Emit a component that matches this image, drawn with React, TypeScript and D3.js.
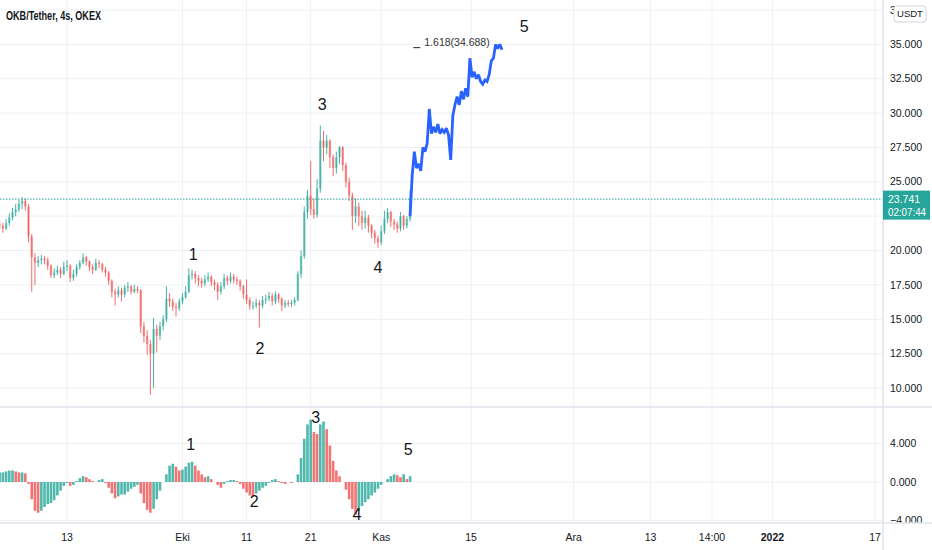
import React, { useEffect, useRef } from 'react';
import * as d3 from 'd3';

// 12h candles
const candleStart = Date.UTC(2021, 8, 2, 12);
const candleStep = 12 * 3600 * 1000;
const firstOpen = 21.9;
const closes = [
  21.8, 21.6, 22.0, 22.4, 22.8, 23.0, 23.4, 23.6, 23.2, 21.0,
  19.5, 19.1, 19.3, 19.4, 19.3, 18.9, 18.2, 18.4, 18.6, 18.3,
  18.8, 18.9, 18.0, 18.3, 18.8, 19.1, 19.5, 19.2, 18.8, 18.6,
  19.1, 19.0, 18.6, 18.4, 17.8, 17.0, 16.8, 17.1, 16.8, 17.3,
  17.4, 17.0, 17.2, 17.1, 14.5, 13.8, 13.2, 12.5, 14.3, 13.8,
  14.5, 15.0, 16.5, 16.3, 15.9, 15.8, 16.3, 16.6, 17.0, 18.2,
  18.3, 18.0, 17.8, 17.6, 17.9, 18.1, 17.7, 17.5, 17.0, 17.4,
  18.0, 17.8, 18.1, 17.9, 17.8, 17.4, 16.8, 16.4, 16.0, 16.0,
  16.2, 16.0, 16.4, 16.5, 16.7, 16.3, 16.8, 16.5, 16.0, 16.2,
  16.1, 16.2, 16.4, 18.3, 19.6, 22.8, 24.0, 23.0, 22.6, 24.5,
  28.0, 27.5, 28.0, 26.8, 26.0, 26.8, 27.5, 26.2, 25.0, 24.0,
  22.5, 23.2, 22.5, 22.0, 22.4, 21.8, 21.3, 20.9, 20.6, 21.4,
  22.3, 22.8, 22.1, 21.9, 21.6, 22.5, 21.8, 22.3, 23.8,
];
const highs = [
  22.2, 22.0, 22.3, 22.7, 23.1, 23.4, 23.7, 23.9, 23.8, 23.4,
  21.2, 19.8, 19.6, 19.7, 19.6, 19.5, 19.0, 18.7, 18.9, 18.8,
  19.2, 19.3, 19.0, 18.6, 19.0, 19.3, 19.8, 19.6, 19.3, 19.0,
  19.4, 19.3, 19.1, 18.8, 18.5, 17.9, 17.2, 17.4, 17.3, 17.5,
  17.7, 17.5, 17.5, 17.4, 17.2, 14.8, 14.2, 13.5, 15.1, 14.6,
  14.8, 15.3, 17.4, 16.9, 16.5, 16.2, 16.5, 16.9, 17.4, 18.7,
  18.6, 18.5, 18.2, 18.0, 18.2, 18.4, 18.2, 17.9, 17.7, 17.7,
  18.3, 18.2, 18.4, 18.3, 18.1, 17.9, 17.5, 17.9, 16.6, 16.3,
  16.5, 16.4, 16.7, 16.8, 17.0, 16.9, 17.0, 16.9, 16.6, 16.4,
  16.4, 16.4, 16.6, 18.5, 20.0, 23.2, 24.4, 26.5, 23.8, 25.2,
  29.1, 28.7, 28.4, 28.1, 27.0, 27.2, 27.6, 27.6, 26.4, 25.3,
  24.2, 23.8, 23.5, 22.9, 22.9, 22.6, 21.9, 21.5, 21.1, 21.8,
  22.9, 23.1, 22.9, 22.3, 22.1, 22.8, 22.6, 22.5, 24.4,
];
const lows = [
  21.5, 21.3, 21.5, 21.8, 22.2, 22.5, 22.8, 23.0, 22.9, 20.6,
  17.0, 17.5, 18.8, 19.0, 19.0, 18.6, 18.0, 18.0, 18.2, 18.0,
  18.2, 18.5, 17.7, 17.8, 18.1, 18.6, 19.0, 18.9, 18.5, 18.3,
  18.5, 18.7, 18.4, 18.1, 17.5, 16.6, 16.0, 16.6, 16.3, 16.6,
  17.0, 16.8, 16.9, 16.9, 14.0, 13.3, 12.4, 9.5, 10.0, 12.6,
  13.5, 14.2, 14.8, 15.9, 15.6, 15.2, 15.6, 16.1, 16.5, 16.9,
  17.9, 17.6, 17.4, 17.3, 17.4, 17.7, 17.4, 17.1, 16.4, 16.8,
  17.2, 17.5, 17.6, 17.6, 17.5, 17.1, 16.5, 16.1, 15.7, 15.7,
  15.8, 14.4, 15.8, 16.1, 16.3, 16.0, 16.1, 16.2, 15.6, 15.8,
  15.9, 15.9, 16.0, 16.3, 18.0, 19.4, 22.3, 22.6, 22.3, 22.4,
  24.2, 26.5, 27.0, 26.0, 25.4, 25.6, 26.3, 25.8, 24.6, 23.6,
  21.5, 22.0, 21.8, 21.5, 21.6, 21.3, 20.9, 20.5, 20.2, 20.4,
  21.2, 22.0, 21.7, 21.5, 21.3, 21.4, 21.5, 21.6, 22.1,
];

// oscillator histogram, same 12h steps
const oscValues = [
  1.0, 1.0, 1.1, 1.2, 1.2, 1.1, 1.0, 1.0, 0.9, -0.2,
  -1.8, -3.0, -3.2, -3.0, -2.6, -2.3, -2.2, -1.9, -1.4, -0.9,
  -0.4, -0.1, -0.4, -0.3, 0.1, 0.4, 0.6, 0.5, 0.3, 0.1,
  0.0, 0.2, 0.3, -0.1, -0.6, -1.2, -1.7, -1.5, -1.3, -1.3,
  -1.0, -0.7, -0.5, -0.3, -1.2, -2.2, -2.9, -3.2, -2.8, -1.8,
  -0.9, 0.0, 0.8, 1.7, 1.9, 1.6, 1.2, 1.3, 1.6, 2.0,
  2.1, 1.7, 1.2, 0.8, 0.5, 0.6, 0.3, 0.0, -0.3, -0.6,
  -0.2, 0.1, 0.2, 0.2, 0.1, -0.2, -0.7, -1.1, -1.4, -1.5,
  -1.2, -0.9, -0.6, -0.4, -0.1, 0.2, 0.3, 0.1, -0.1, -0.2,
  0.0, -0.1, 0.0, 0.8, 2.5, 4.5, 6.0, 6.5, 5.2, 5.0,
  6.0, 6.3, 5.5, 3.8, 2.2, 1.2, 0.6, 0.0, -0.8, -1.8,
  -2.8, -3.4, -3.0, -2.5, -2.1, -1.8, -1.4, -1.1, -0.7, -0.3,
  0.0, 0.3, 0.6, 0.8, 0.7, 0.5, 0.8, 0.3, 0.6,
];

// blue projection line, 8h steps
const lineStart = Date.UTC(2021, 10, 5, 12);
const lineStep = 8 * 3600 * 1000;
const lineValues = [
  22.5, 25.5, 27.2, 26.0, 26.3, 25.8, 27.5, 27.2, 27.8, 30.3,
  28.5, 29.0, 28.6, 29.2, 28.5, 28.8, 28.6, 28.9, 28.4, 26.6,
  29.8, 30.6, 31.2, 30.6, 31.6, 31.0, 31.8, 31.2, 34.0, 32.6,
  33.0, 32.5, 32.8, 32.3, 32.1, 32.4, 32.3, 32.8, 33.8, 34.0,
  35.0, 34.7, 35.0, 34.6,
];

const lastPrice = 23.741;
const countdown = '02:07:44';
const fibText = '1.618(34.688)';
const fibLevel = 34.688;
const fibTime = Date.UTC(2021, 10, 6, 0);

const priceTicks = [10, 12.5, 15, 17.5, 20, 22.5, 25, 27.5, 30, 32.5, 35, 37.5];
const oscTicks = [-4, 0, 4];
const timeTicks = [
  Date.UTC(2021, 8, 13), Date.UTC(2021, 9, 1), Date.UTC(2021, 9, 11), Date.UTC(2021, 9, 21),
  Date.UTC(2021, 10, 1), Date.UTC(2021, 10, 15), Date.UTC(2021, 11, 1), Date.UTC(2021, 11, 13),
  Date.UTC(2021, 11, 22, 14), Date.UTC(2022, 0, 1), Date.UTC(2022, 0, 17),
];
const timeLabels = ['13', 'Eki', '11', '21', 'Kas', '15', 'Ara', '13', '14:00', '2022', '17'];

const waveNames = ['1', '2', '3', '4', '5'];
const waveMainTimes = [
  Date.UTC(2021, 9, 2, 16), Date.UTC(2021, 9, 13, 2), Date.UTC(2021, 9, 22, 19),
  Date.UTC(2021, 9, 31, 12), Date.UTC(2021, 10, 23, 7),
];
const waveMainPrices = [19.7, 12.9, 30.6, 18.75, 36.3];
const waveOscTimes = [
  Date.UTC(2021, 9, 2, 7), Date.UTC(2021, 9, 12, 5), Date.UTC(2021, 9, 21, 19),
  Date.UTC(2021, 9, 28, 5), Date.UTC(2021, 10, 5, 5),
];
const waveOscValues = [3.96, -2.0, 6.7, -3.4, 3.4];

const title = 'OKB/Tether, 4s, OKEX';

const W = 932;
const H = 550;
const axisX = 883;
const mainBottom = 407;
const oscBottom = 523;
const UP = '#26a69a';
const DOWN = '#ef5350';
const GRID = '#eef0f4';
const font = '"Liberation Sans", Arial, sans-serif';

const App = () => {
  const ref = useRef(null);

  useEffect(() => {
    document.body.style.margin = '0';
    const svg = d3.select(ref.current);
    svg.selectAll('*').remove();

    const x = d3.scaleTime()
      .domain([new Date(Date.UTC(2021, 8, 13)), new Date(Date.UTC(2022, 0, 17))])
      .range([67, 875]);
    const y = d3.scaleLinear().domain([10, 37.5]).range([388, 10]);
    const yo = d3.scaleLinear().domain([-4, 4]).range([520.4, 443.6]);

    const defs = svg.append('defs');
    defs.append('clipPath').attr('id', 'mainClip')
      .append('rect').attr('x', 0).attr('y', 0).attr('width', axisX).attr('height', mainBottom);
    defs.append('clipPath').attr('id', 'oscClip')
      .append('rect').attr('x', 0).attr('y', mainBottom).attr('width', W).attr('height', oscBottom - mainBottom);

    svg.append('rect').attr('width', W).attr('height', H).attr('fill', '#fff');

    // grid
    svg.append('g').selectAll('line').data(timeTicks).join('line')
      .attr('x1', d => x(new Date(d))).attr('x2', d => x(new Date(d)))
      .attr('y1', 0).attr('y2', oscBottom)
      .attr('stroke', GRID).attr('stroke-width', 1);
    svg.append('g').selectAll('line').data(priceTicks).join('line')
      .attr('x1', 0).attr('x2', axisX)
      .attr('y1', d => y(d)).attr('y2', d => y(d))
      .attr('stroke', GRID).attr('stroke-width', 1);
    svg.append('g').selectAll('line').data(oscTicks).join('line')
      .attr('x1', 0).attr('x2', axisX)
      .attr('y1', d => yo(d)).attr('y2', d => yo(d))
      .attr('stroke', GRID).attr('stroke-width', 1);

    // candles
    const candles = closes.map((c, i) => ({
      t: new Date(candleStart + i * candleStep),
      o: i === 0 ? firstOpen : closes[i - 1],
      h: highs[i],
      l: lows[i],
      c,
    }));
    const cg = svg.append('g').attr('clip-path', 'url(#mainClip)');
    const cs = cg.selectAll('g').data(candles).join('g');
    cs.append('line')
      .attr('x1', d => x(d.t)).attr('x2', d => x(d.t))
      .attr('y1', d => y(d.h)).attr('y2', d => y(d.l))
      .attr('stroke', d => (d.c >= d.o ? UP : DOWN))
      .attr('stroke-width', 1).attr('stroke-opacity', 0.85);
    cs.append('rect')
      .attr('x', d => x(d.t) - 1.2)
      .attr('width', 2.4)
      .attr('y', d => y(Math.max(d.o, d.c)))
      .attr('height', d => Math.max(1, Math.abs(y(d.o) - y(d.c))))
      .attr('fill', d => (d.c >= d.o ? UP : DOWN))
      .attr('fill-opacity', 0.5);

    // blue projection line
    const linePts = lineValues.map((v, i) => ({ t: new Date(lineStart + i * lineStep), v }));
    cg.append('path')
      .attr('d', d3.line().x(d => x(d.t)).y(d => y(d.v))(linePts))
      .attr('fill', 'none').attr('stroke', '#2962ff').attr('stroke-width', 2.8)
      .attr('stroke-linejoin', 'miter').attr('stroke-miterlimit', 2);

    // last price line
    svg.append('line')
      .attr('x1', 0).attr('x2', axisX).attr('y1', y(lastPrice)).attr('y2', y(lastPrice))
      .attr('stroke', UP).attr('stroke-width', 1).attr('stroke-dasharray', '1.5,1.5');

    // fib level
    svg.append('line')
      .attr('x1', x(new Date(fibTime))).attr('x2', x(new Date(fibTime)) + 7)
      .attr('y1', y(fibLevel) - 1).attr('y2', y(fibLevel) - 1)
      .attr('stroke', '#222').attr('stroke-width', 1);
    svg.append('text')
      .attr('x', x(new Date(fibTime)) + 11).attr('y', y(fibLevel) - 3)
      .attr('font-family', font).attr('font-size', 10.5).attr('fill', '#333')
      .text(fibText);

    // wave labels (price pane)
    svg.append('g').selectAll('text').data(waveNames).join('text')
      .attr('x', (d, i) => x(new Date(waveMainTimes[i])))
      .attr('y', (d, i) => y(waveMainPrices[i]))
      .attr('dy', '0.35em').attr('text-anchor', 'middle')
      .attr('font-family', font).attr('font-size', 16).attr('fill', '#131722')
      .text(d => d);

    // oscillator histogram
    const og = svg.append('g').attr('clip-path', 'url(#oscClip)');
    og.selectAll('rect').data(oscValues).join('rect')
      .attr('x', (d, i) => x(new Date(candleStart + i * candleStep)) - 1.3)
      .attr('width', 2.6)
      .attr('y', d => Math.min(yo(d), yo(0)))
      .attr('height', d => Math.abs(yo(d) - yo(0)))
      .attr('fill', (d, i) => (i === 0 || d >= oscValues[i - 1] ? UP : DOWN))
      .attr('fill-opacity', 0.8);

    svg.append('g').selectAll('text').data(waveNames).join('text')
      .attr('x', (d, i) => x(new Date(waveOscTimes[i])))
      .attr('y', (d, i) => yo(waveOscValues[i]))
      .attr('dy', '0.35em').attr('text-anchor', 'middle')
      .attr('font-family', font).attr('font-size', 16).attr('fill', '#131722')
      .text(d => d);

    // price axis labels (the one under the last-price box is hidden, as in the picture)
    const fmt = d3.format('.3f');
    const boxTop = y(lastPrice) - 8.5;
    const boxBottom = boxTop + 29;
    svg.append('g').selectAll('text')
      .data(priceTicks.filter(d => y(d) < boxTop - 4 || y(d) > boxBottom + 4))
      .join('text')
      .attr('x', 890).attr('y', d => y(d)).attr('dy', '0.35em')
      .attr('font-family', font).attr('font-size', 10.5).attr('fill', '#131722')
      .text(d => fmt(d));
    svg.append('g').attr('clip-path', 'url(#oscClip)')
      .selectAll('text').data(oscTicks).join('text')
      .attr('x', 890).attr('y', d => yo(d)).attr('dy', '0.35em')
      .attr('font-family', font).attr('font-size', 10.5).attr('fill', '#131722')
      .text(d => fmt(d).replace('-', '\u2212'));

    // time axis labels
    svg.append('g').selectAll('text').data(timeTicks).join('text')
      .attr('x', d => x(new Date(d))).attr('y', 541)
      .attr('text-anchor', 'middle')
      .attr('font-family', font).attr('font-size', 10.5)
      .attr('font-weight', (d, i) => (timeLabels[i] === '2022' ? 'bold' : 'normal'))
      .attr('fill', '#131722')
      .text((d, i) => timeLabels[i]);

    // separators
    svg.append('line').attr('x1', 0).attr('x2', W).attr('y1', mainBottom).attr('y2', mainBottom)
      .attr('stroke', '#e0e3eb').attr('stroke-width', 1.5);
    svg.append('line').attr('x1', 0).attr('x2', W).attr('y1', oscBottom).attr('y2', oscBottom)
      .attr('stroke', '#e0e3eb').attr('stroke-width', 1.5);
    svg.append('line').attr('x1', axisX).attr('x2', axisX).attr('y1', 0).attr('y2', H)
      .attr('stroke', '#e0e3eb').attr('stroke-width', 1.5);

    // last price box
    svg.append('rect').attr('x', axisX).attr('y', boxTop)
      .attr('width', W - axisX - 2).attr('height', 29).attr('fill', UP);
    svg.append('text').attr('x', 888).attr('y', y(lastPrice)).attr('dy', '0.35em')
      .attr('font-family', font).attr('font-size', 10.5).attr('fill', '#fff')
      .text(fmt(lastPrice));
    svg.append('text').attr('x', 888).attr('y', y(lastPrice) + 13).attr('dy', '0.35em')
      .attr('font-family', font).attr('font-size', 10).attr('fill', '#fff')
      .attr('textLength', 38).attr('lengthAdjust', 'spacingAndGlyphs')
      .text(countdown);

    // currency badge
    svg.append('rect').attr('x', 894).attr('y', 6).attr('width', 32).attr('height', 16).attr('rx', 3)
      .attr('fill', '#fff').attr('stroke', '#d1d4dc');
    svg.append('text').attr('x', 910).attr('y', 14).attr('dy', '0.35em').attr('text-anchor', 'middle')
      .attr('font-family', font).attr('font-size', 9.5).attr('fill', '#131722')
      .text('USDT');

    // title
    svg.append('text').attr('x', 6).attr('y', 20)
      .attr('font-family', font).attr('font-size', 12).attr('font-weight', 'bold').attr('fill', '#131722')
      .attr('textLength', 95).attr('lengthAdjust', 'spacingAndGlyphs')
      .text(title);
  }, []);

  return (
    <svg
      ref={ref}
      width={W}
      height={H}
      style={{ display: 'block', position: 'absolute', left: 0, top: 0 }}
    />
  );
};

export default App;
